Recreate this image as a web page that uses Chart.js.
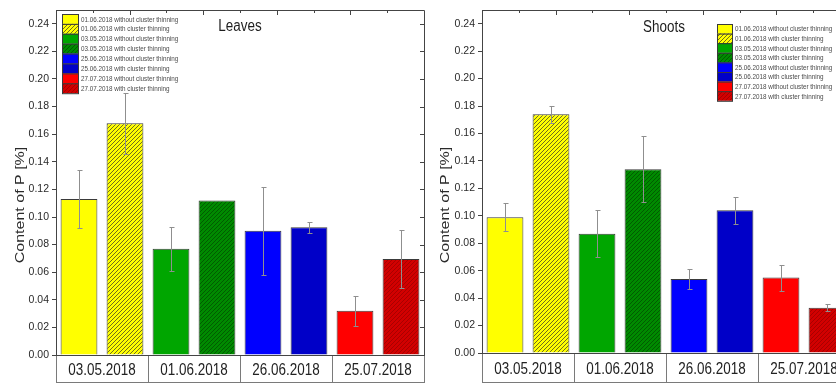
<!DOCTYPE html>
<html>
<head>
<meta charset="utf-8">
<script src="https://cdn.jsdelivr.net/npm/chart.js@4.4.1/dist/chart.umd.min.js"></script>
<style>
  html, body { margin: 0; padding: 0; background: #fff; }
  body { width: 836px; height: 383px; overflow: hidden; position: relative; }
  .panel { position: absolute; top: 0; height: 383px; width: 430px; }
  #leavesBox { left: 0; }
  #shootsBox { left: 430px; }
</style>
</head>
<body>
<div class="panel" id="leavesBox"><canvas id="leavesChart" width="430" height="383"></canvas></div>
<div class="panel" id="shootsBox"><canvas id="shootsChart" width="430" height="383"></canvas></div>
<script>
// sampling dates shown under each pair of bars
const dates = ['03.05.2018', '01.06.2018', '26.06.2018', '25.07.2018'];

// legend entries, one per bar
const seriesNames = [
    '01.06.2018 without cluster thinning',
    '01.06.2018 with cluster thinning',
    '03.05.2018 without cluster thinning',
    '03.05.2018 with cluster thinning',
    '25.06.2018 without cluster thinning',
    '25.06.2018 with cluster thinning',
    '27.07.2018 without cluster thinning',
    '27.07.2018 with cluster thinning'
];

const leavesValues = [0.113, 0.168, 0.077, 0.112, 0.090, 0.0925, 0.032, 0.0695];
const leavesErrors = [0.021, 0.022, 0.016, 0, 0.032, 0.004, 0.011, 0.021];

const shootsValues = [0.099, 0.174, 0.087, 0.134, 0.054, 0.104, 0.055, 0.033];
const shootsErrors = [0.010, 0.006, 0.017, 0.024, 0.007, 0.010, 0.0095, 0.0025];

const yTickLabels = ['0.00', '0.02', '0.04', '0.06', '0.08', '0.10', '0.12',
                     '0.14', '0.16', '0.18', '0.20', '0.22', '0.24'];

const sans = "'Liberation Sans', Arial, sans-serif";
const squeeze = 0.84;   // the source picture is a bit condensed horizontally

// fill per bar: plain colour or hatched
const barStyles = [
    { base: '#ffff00' },
    { base: '#ffff00', hatch: '#6f6d1c' },
    { base: '#00a600' },
    { base: '#008a00', hatch: '#005c00' },
    { base: '#0000ff' },
    { base: '#0000c8' },
    { base: '#ff0000' },
    { base: '#d20000', hatch: '#a80000' }
];

function makeFill(ctx, style) {
    if (!style.hatch) return style.base;
    const c = document.createElement('canvas');
    c.width = 4;
    c.height = 4;
    const p = c.getContext('2d');
    p.fillStyle = style.base;
    p.fillRect(0, 0, 4, 4);
    p.strokeStyle = style.hatch;
    p.lineWidth = 1;
    p.beginPath();
    p.moveTo(0, 4); p.lineTo(4, 0);
    p.moveTo(-1, 1); p.lineTo(1, -1);
    p.moveTo(3, 5); p.lineTo(5, 3);
    p.stroke();
    return ctx.createPattern(c, 'repeat');
}

function condensedText(ctx, text, x, y, align) {
    ctx.save();
    ctx.translate(x, y);
    ctx.scale(squeeze, 1);
    ctx.textAlign = align;
    ctx.fillText(text, 0, 0);
    ctx.restore();
}

const panelDeco = {
    id: 'panelDeco',
    afterDatasetsDraw(chart, args, opts) {
        const ctx = chart.ctx;
        const y = chart.scales.y;
        ctx.save();
        ctx.strokeStyle = '#8f8f8f';
        ctx.lineWidth = 1;
        opts.errors.forEach((err, i) => {
            if (!err) return;
            const bar = chart.getDatasetMeta(i).data[i];
            const v = chart.data.datasets[i].data[i];
            const x = Math.round(bar.x) + 0.5;
            const top = Math.round(y.getPixelForValue(v + err)) + 0.5;
            const bot = Math.round(y.getPixelForValue(v - err)) + 0.5;
            ctx.beginPath();
            ctx.moveTo(x, top); ctx.lineTo(x, bot);
            ctx.moveTo(x - 2, top); ctx.lineTo(x + 3, top);
            ctx.moveTo(x - 2, bot); ctx.lineTo(x + 3, bot);
            ctx.stroke();
        });
        ctx.restore();
    },
    afterDraw(chart, args, opts) {
        const ctx = chart.ctx;
        const a = chart.chartArea;
        const y = chart.scales.y;
        const x2 = chart.scales.x2;
        ctx.save();

        // frame with mirrored ticks
        ctx.strokeStyle = '#444';
        ctx.lineWidth = 1;
        ctx.beginPath();
        ctx.moveTo(a.left, a.top + 0.5); ctx.lineTo(a.right + 0.5, a.top + 0.5);
        ctx.lineTo(a.right + 0.5, a.bottom);
        for (let k = 1; k < 10; k++) {
            const x = Math.round(a.left + k * (a.right - a.left) / 10) + 0.5;
            ctx.moveTo(x, a.top);
            ctx.lineTo(x, a.top + (k % 2 ? 3 : 5));
        }
        yTickLabels.forEach(t => {
            const py = Math.round(y.getPixelForValue(parseFloat(t))) + 0.5;
            ctx.moveTo(a.right, py);
            ctx.lineTo(a.right - 4, py);
        });
        ctx.stroke();

        // bottom edge of the date boxes
        const boxBottom = a.bottom + opts.boxHeight - 0.5;
        ctx.strokeStyle = '#7a7a7a';
        ctx.beginPath();
        ctx.moveTo(a.left, boxBottom); ctx.lineTo(a.right + 1, boxBottom);
        ctx.stroke();

        // date labels inside the boxes
        ctx.fillStyle = '#222';
        ctx.font = '16px ' + sans;
        ctx.textBaseline = 'middle';
        dates.forEach((d, i) => {
            condensedText(ctx, d, x2.getPixelForTick(i), a.bottom + opts.boxHeight / 2 + 1.5, 'center');
        });

        // panel title
        ctx.fillStyle = '#1e1e1e';
        ctx.font = '16px ' + sans;
        condensedText(ctx, opts.title, opts.titleX, opts.titleY, 'center');

        // y axis title
        ctx.save();
        ctx.translate(opts.yTitleX, opts.yTitleY);
        ctx.scale(squeeze, 1);
        ctx.rotate(-Math.PI / 2);
        ctx.font = '16px ' + sans;
        ctx.textAlign = 'center';
        ctx.fillStyle = '#2a2a2a';
        ctx.fillText('Content of P [%]', 0, 0);
        ctx.restore();

        // legend
        const lx = opts.legendX, ly = opts.legendY, rh = opts.legendRow, sw = opts.legendSwatch;
        chart.data.datasets.forEach((ds, i) => {
            const top = ly + i * rh;
            ctx.fillStyle = ds.backgroundColor;
            ctx.fillRect(lx, top, sw, rh);
            ctx.strokeStyle = '#3a3a3a';
            ctx.strokeRect(lx + 0.5, top + 0.5, sw, rh);
            ctx.fillStyle = '#4a4a4a';
            ctx.font = '7.5px ' + sans;
            condensedText(ctx, ds.label, lx + sw + 3, top + rh / 2 + 0.5, 'left');
        });
        ctx.restore();
    }
};

function makeChart(canvasId, values, errors, deco, yWidth, boxHeight, padRight) {
    const canvas = document.getElementById(canvasId);
    const ctx = canvas.getContext('2d');
    const datasets = values.map((v, i) => {
        const data = values.map(() => null);
        data[i] = v;
        return {
            label: seriesNames[i],
            data: data,
            backgroundColor: makeFill(ctx, barStyles[i]),
            borderColor: '#3a3a3a',
            borderWidth: 1,
            barPercentage: 0.8,
            categoryPercentage: 1.0
        };
    });

    return new Chart(ctx, {
        type: 'bar',
        data: { labels: seriesNames, datasets: datasets },
        options: {
            responsive: false,
            animation: false,
            devicePixelRatio: 1,
            grouped: false,
            layout: { padding: { top: 10, right: padRight, left: 0, bottom: 0 } },
            scales: {
                x: { display: false, offset: true },
                x2: {
                    type: 'category',
                    labels: dates,
                    position: 'bottom',
                    offset: true,
                    grid: { display: true, drawOnChartArea: false, offset: true, tickLength: boxHeight, color: '#7a7a7a' },
                    border: { display: true, color: '#444' },
                    ticks: { display: false },
                    afterFit: s => { s.height = boxHeight; }
                },
                y: {
                    min: 0,
                    max: 0.25,
                    ticks: {
                        stepSize: 0.01,
                        padding: 3,
                        font: { size: 10.5, family: sans },
                        color: '#2a2a2a',
                        callback: v => {
                            const s = v.toFixed(2);
                            return yTickLabels.includes(s) ? s : '';
                        }
                    },
                    grid: { display: true, drawOnChartArea: false, tickLength: 4, color: '#444' },
                    border: { display: true, color: '#444' },
                    afterFit: s => { s.width = yWidth; }
                }
            },
            plugins: {
                legend: { display: false },
                tooltip: { enabled: false },
                panelDeco: Object.assign({ errors: errors, boxHeight: boxHeight }, deco)
            }
        },
        plugins: [panelDeco]
    });
}

makeChart('leavesChart', leavesValues, leavesErrors, {
    title: 'Leaves', titleX: 240, titleY: 27,
    yTitleX: 20, yTitleY: 205,
    legendX: 62, legendY: 14, legendRow: 9.9, legendSwatch: 16
}, 56, 28, 6);

makeChart('shootsChart', shootsValues, shootsErrors, {
    title: 'Shoots', titleX: 234, titleY: 28,
    yTitleX: 15, yTitleY: 205,
    legendX: 287, legendY: 24, legendRow: 9.6, legendSwatch: 15
}, 52, 30, 10);
</script>
</body>
</html>
